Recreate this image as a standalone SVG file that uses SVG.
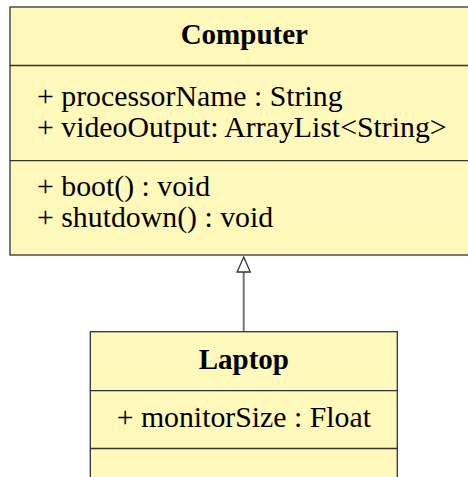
<svg xmlns="http://www.w3.org/2000/svg" width="468" height="477" viewBox="0 0 468 477">
  <style>
    .box { fill: #fff8bb; stroke: #333; stroke-width: 1.3; }
    .sep { stroke: #333; stroke-width: 1.3; fill: none; }
    .title { font-family: "Liberation Serif", "Times New Roman", serif; font-weight: bold; font-size: 29px; fill: #000; text-anchor: middle; }
    .member { font-family: "Liberation Serif", "Times New Roman", serif; font-size: 29.8px; fill: #000; }
    .edge { stroke: #777; stroke-width: 2; fill: none; }
    .head { fill: #fff; stroke: #333; stroke-width: 1.3; }
  </style>

  <!-- inheritance link: Laptop extends Computer -->
  <g id="connectors">
    <line class="edge" x1="243.7" y1="272" x2="243.7" y2="331.7"/>
    <polygon class="head" points="243.7,257 250.3,272 237.1,272"/>
  </g>

  <!-- class Computer -->
  <g id="computer">
    <rect class="box" x="10" y="7" width="468" height="248"/>
    <line class="sep" x1="10" y1="65.5" x2="478" y2="65.5"/>
    <line class="sep" x1="10" y1="160.7" x2="478" y2="160.7"/>
    <text class="title" x="244.3" y="44.3">Computer</text>
    <text class="member" x="37" y="105.5">+ processorName : String</text>
    <text class="member" x="37" y="137">+ videoOutput: ArrayList&lt;String&gt;</text>
    <text class="member" x="37" y="195.5">+ boot() : void</text>
    <text class="member" x="37" y="227">+ shutdown() : void</text>
  </g>

  <!-- class Laptop -->
  <g id="laptop">
    <rect class="box" x="90.3" y="331.7" width="307" height="160"/>
    <line class="sep" x1="90.3" y1="390.7" x2="397.3" y2="390.7"/>
    <line class="sep" x1="90.3" y1="448.5" x2="397.3" y2="448.5"/>
    <text class="title" x="243.8" y="369.3">Laptop</text>
    <text class="member" x="243.8" y="427.3" text-anchor="middle">+ monitorSize : Float</text>
  </g>
</svg>
